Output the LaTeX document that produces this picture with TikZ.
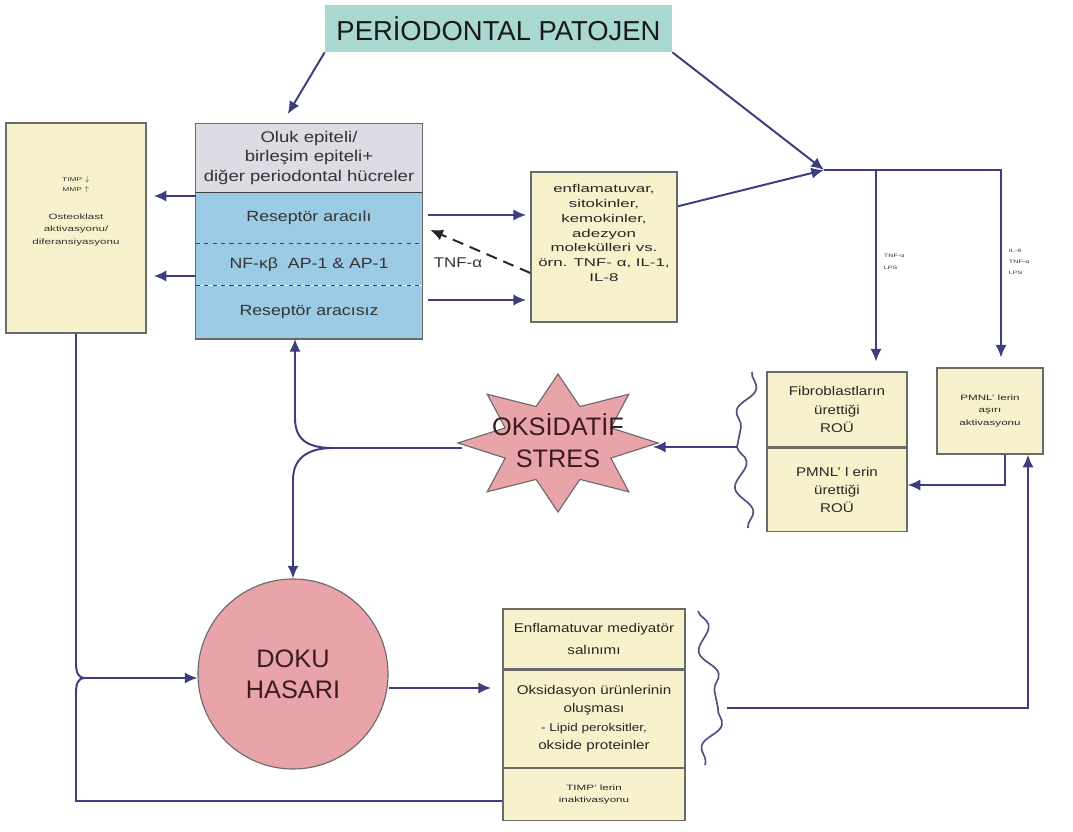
\documentclass[tikz,border=0pt]{standalone}
\usepackage{fontspec}
\setmainfont{Liberation Sans}
\newfontfamily\widesf{Liberation Sans}[FakeStretch=1.2]
\newfontfamily\widersf{Liberation Sans}[FakeStretch=1.5]
\usetikzlibrary{calc}
\usetikzlibrary{shapes.geometric}
\usetikzlibrary{positioning}
\usetikzlibrary{arrows.meta}
\usetikzlibrary{decorations.pathmorphing}
\definecolor{tealbox}{HTML}{A9D8D1}
\definecolor{cream}{HTML}{F8F2CC}
\definecolor{bluebox}{HTML}{9CCCE5}
\definecolor{greybox}{HTML}{DCDDE4}
\definecolor{pinkfill}{HTML}{E9A4AA}
\definecolor{navy}{HTML}{3E3D80}
\definecolor{edgegray}{HTML}{6A6A6A}
\definecolor{darkred}{HTML}{3A1C1E}
\tikzstyle{cbox} = [rectangle, draw=edgegray, line width=0.9pt, fill=cream,
    align=center, inner sep=1pt, text=black!85]
\tikzstyle{bband} = [rectangle, fill=bluebox, minimum width=5.65cm, inner sep=0pt,
    font=\widesf\fontsize{10.5}{13}\selectfont, text=black!80]
\tikzstyle{line} = [draw=navy, line width=1.4pt, -{Latex[length=9pt,width=8pt]}]
\tikzstyle{conn} = [draw=navy, line width=1.4pt]
\tikzstyle{wave} = [draw=navy!70!gray, line width=1.2pt, decorate,
    decoration={snake, amplitude=0.19cm, segment length=1.25cm}]
\tikzstyle{tiny} = [align=left, anchor=west, text=black!80,
    font=\widersf\fontsize{3.4}{8}\selectfont]

\begin{document}
\begin{tikzpicture}[x=0.025cm, y=-0.025cm]
    \useasboundingbox (0,0) rectangle (1073,832);
    % Place nodes
    \node [rectangle, fill=tealbox, minimum width=8.675cm, minimum height=1.175cm,
        text=black!90, font=\fontsize{19.5}{24}\selectfont] (title) at (498.5,28.5) {PERİODONTAL PATOJEN};
    \node [cbox, minimum width=3.5cm, minimum height=5.25cm] (osteo) at (76,228) {};
    \node [text=black!80, align=center, font=\widersf\fontsize{4}{7}\selectfont] (timp) at (76,185) {TIMP $\downarrow$\\MMP $\uparrow$};
    \node [text=black!80, align=center, font=\widersf\fontsize{5.5}{9}\selectfont] (osteotext) at (76,230) {Osteoklast\\aktivasyonu/\\diferansiyasyonu};
    \node [rectangle, fill=greybox, minimum width=5.65cm, minimum height=1.7cm, inner sep=0pt,
        align=center, text=black!80, font=\widesf\fontsize{11}{14}\selectfont] (oluk) at (309,158) {Oluk epiteli/\\birleşim epiteli+\\diğer periodontal hücreler};
    \node [bband, minimum height=1.275cm, below=0pt of oluk] (recA) {Reseptör aracılı};
    \node [bband, minimum height=1.025cm, below=0pt of recA] (nfkb) {NF-κβ\ \ AP-1 \& AP-1};
    \node [bband, minimum height=1.325cm, below=0pt of nfkb] (recB) {Reseptör aracısız};
    \node [cbox, minimum width=3.65cm, minimum height=3.75cm] (enfl) at (604,247) {};
    \node [text=black!85, align=center, font=\widersf\fontsize{8}{10.5}\selectfont] (enfltext) at (604,233) {enflamatuvar,\\sitokinler,\\kemokinler,\\adezyon\\molekülleri vs.\\örn. TNF- α, IL-1,\\IL-8};
    \node [font=\widesf\fontsize{10}{12}\selectfont, text=black!80] (tnf) at (458,263) {TNF-α};
    \node [cbox, minimum width=3.5cm, minimum height=1.875cm,
        font=\widesf\fontsize{9}{13}\selectfont] (fib1) at (837,409.5) {Fibroblastların\\ürettiği\\ROÜ};
    \node [cbox, minimum width=3.5cm, minimum height=2.075cm,
        font=\widesf\fontsize{9}{13}\selectfont, below=0pt of fib1] (fib2) {PMNL’ l erin\\ürettiği\\ROÜ};
    \node [cbox, minimum width=2.65cm, minimum height=2.15cm,
        font=\widersf\fontsize{5.5}{9}\selectfont] (pmnl) at (990,411) {PMNL’ lerin\\aşırı\\aktivasyonu};
    \node [star, star points=8, star point ratio=1.75, minimum size=3.45cm, xscale=1.45,
        draw=edgegray, line width=0.8pt, fill=pinkfill] (stres) at (558,443) {};
    \node [align=center, text=darkred, font=\fontsize{18}{22.7}\selectfont] (strestext) at (558,441) {OKSİDATİF\\STRES};
    \node [circle, draw=edgegray, line width=0.8pt, fill=pinkfill, minimum size=4.75cm, align=center,
        text=darkred, font=\fontsize{18}{22}\selectfont] (doku) at (293,674) {DOKU\\HASARI};
    \node [cbox, minimum width=4.55cm, minimum height=1.5cm,
        font=\widesf\fontsize{9}{16}\selectfont] (medi) at (594,639) {Enflamatuvar mediyatör\\salınımı};
    \node [cbox, minimum width=4.55cm, minimum height=2.425cm, below=0pt of medi,
        font=\widesf\fontsize{9}{13}\selectfont] (oksi) {Oksidasyon ürünlerinin\\oluşması\\{\fontsize{8}{12}\selectfont - Lipid peroksitler,}\\okside proteinler};
    \node [cbox, minimum width=4.55cm, minimum height=1.3cm, below=0pt of oksi,
        font=\widersf\fontsize{5.5}{9}\selectfont] (timpin) {TIMP’ lerin\\inaktivasyonu};
    \node [tiny] (lab1) at (879,262) {TNF-α\\LPS};
    \node [tiny] (lab2) at (1004,262) {IL-8\\TNF-α\\LPS};
    % Frame and dividers of the receptor box
    \draw [edgegray, line width=0.9pt] (oluk.north west) rectangle (recB.south east);
    \draw [black!75, line width=1pt] (oluk.south west) -- (oluk.south east);
    \draw [black!75, line width=0.9pt, dashed] (recA.south west) -- (recA.south east);
    \draw [black!75, line width=0.9pt, dashed] (nfkb.south west) -- (nfkb.south east);
    % Junction points
    \coordinate (join) at (824,170);
    \coordinate (split) at (876,170);
    \coordinate (corner) at (1001,170);
    \coordinate (fcusp) at (737,447);
    \coordinate (bcusp) at (718,708);
    \coordinate (sfork) at (333,448);
    \coordinate (lfork) at (84,678);
    % Wavy braces
    \draw [wave] (752,372) -- (fcusp);
    \draw [wave] (fcusp) -- (748,528);
    \draw [wave] (698,611) -- (bcusp);
    \draw [wave] (bcusp) -- (705,765);
    % Draw edges
    \path [line, shorten >=8pt] (title.south west) -- ($(oluk.north)+(-27,0)$);
    \path [line] (title.south east) -- (join);
    \path [line] ($(enfl.north east)+(0,35)$) -- (join);
    \path [line, shorten >=7pt] (join) -- (corner) -- (corner |- pmnl.north);
    \path [line, shorten >=7pt] (split) -- (split |- fib1.north);
    \path [line, shorten >=5pt] (oluk.west |- 0,196) -- (osteo.east |- 0,196);
    \path [line, shorten >=5pt] (nfkb.west |- 0,276) -- (osteo.east |- 0,276);
    \path [line, shorten >=3pt] ($(recA.east |- 0,215)+(6,0)$) -- (enfl.west |- 0,215);
    \path [line, shorten >=3pt] ($(recB.east |- 0,300)+(6,0)$) -- (enfl.west |- 0,300);
    \path [line, draw=black!85, dash pattern=on 8pt off 5pt] (enfl.west |- 0,273) -- ($(nfkb.north east)+(8,-14)$);
    \path [line] (fcusp) -- ($(stres.center)+(95,4)$);
    \path [line] (pmnl.south -| 1005,0) -- (1005,485) -- (fib2.east |- 0,485);
    \draw [conn] ($(stres.center)+(-96,5)$) -- (sfork);
    \path [line] (sfork) .. controls (308,448) and (295,440) .. (295,418) -- (recB.south -| 295,0);
    \path [line] (sfork) .. controls (308,448) and (293,458) .. (293,480) -- (doku.north);
    \path [line] (osteo.south) -- (76,664) .. controls (76,673) and (79,678) .. (lfork) -- (doku.west |- lfork);
    \draw [conn] (lfork) .. controls (79,678) and (76,683) .. (76,692) -- (76,801) -- (timpin.west |- 0,801);
    \path [line, shorten >=8pt] (doku.east |- 0,688) -- (oksi.west |- 0,688);
    \path [line] ($(bcusp)+(9,0)$) -- (1028,708) -- (pmnl.south -| 1028,0);
\end{tikzpicture}
\end{document}
